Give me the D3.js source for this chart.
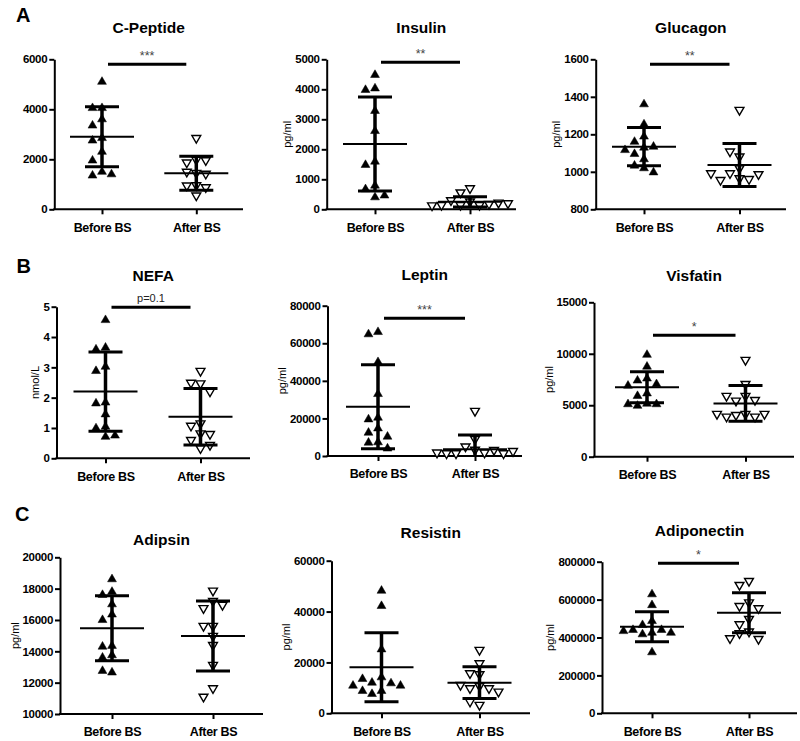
<!DOCTYPE html>
<html>
<head>
<meta charset="utf-8">
<script src="https://cdn.jsdelivr.net/npm/d3@7"></script>
<style>
  body { margin: 0; background: #fff; }
  svg { display: block; }
</style>
</head>
<body>
<svg id="chart" width="800" height="741"></svg>
<script>
// ---------------- DATA ----------------
const groups = ["Before BS", "After BS"];
const titles = ["C-Peptide", "Insulin", "Glucagon", "NEFA", "Leptin", "Visfatin", "Adipsin", "Resistin", "Adiponectin"];
const yLabels = ["", "pg/ml", "pg/ml", "nmol/L", "pg/ml", "pg/ml", "pg/ml", "pg/ml", "pg/ml"];
const panelLetters = ["A", "B", "C"];

const yDomains = [[0, 6000], [0, 5000], [800, 1600], [0, 5], [0, 80000], [0, 15000], [10000, 20000], [0, 60000], [0, 800000]];
const yTicks = [
  [0, 2000, 4000, 6000],
  [0, 1000, 2000, 3000, 4000, 5000],
  [800, 1000, 1200, 1400, 1600],
  [0, 1, 2, 3, 4, 5],
  [0, 20000, 40000, 60000, 80000],
  [0, 5000, 10000, 15000],
  [10000, 12000, 14000, 16000, 18000, 20000],
  [0, 20000, 40000, 60000],
  [0, 200000, 400000, 600000, 800000]
];

const beforeValues = [
  [5100, 4050, 4050, 3600, 3350, 2850, 2750, 2300, 1950, 1500, 1350, 1400],
  [4480, 4030, 3980, 3280, 2610, 1590, 1480, 790, 670, 400, 460],
  [1360, 1253, 1188, 1160, 1129, 1134, 1116, 1095, 1067, 1033, 1019, 997],
  [4.56, 3.65, 3.59, 3.02, 2.88, 1.84, 1.81, 1.45, 1.04, 0.99, 0.71, 0.75],
  [66000, 64800, 50000, 33000, 20400, 19500, 14700, 12400, 10300, 7300, 7100, 4000],
  [9900, 8750, 7600, 7400, 7050, 6900, 6150, 5900, 5150, 4950, 5100, 5100],
  [18600, 17800, 17600, 17000, 16350, 16000, 14350, 14300, 13750, 13600, 12650, 12750],
  [48200, 42200, 25150, 14150, 12050, 11800, 13500, 10870, 8780, 7600, 8780, 10870],
  [628000, 571000, 487000, 466000, 440000, 425000, 417000, 440000, 425000, 434000, 322000]
];
const afterValues = [
  [2850, 1980, 1870, 1960, 1450, 1500, 1420, 960, 950, 880, 550],
  [700, 560, 260, 140, 140, 300, 180, 140, 220, 130, 200],
  [1330, 1081, 1108, 1019, 992, 965, 961, 956, 987, 992],
  [2.88, 2.47, 2.49, 2.20, 1.15, 1.07, 0.82, 0.80, 0.60, 0.33, 0.44],
  [24000, 9000, 5000, 3300, 1800, 1400, 3200, 1400, 1400, 1800, 2600],
  [9400, 7060, 5900, 5440, 5500, 5900, 4150, 4050, 3890, 3890, 4150, 4150],
  [17870, 17210, 16750, 16960, 15620, 15620, 14980, 14400, 13130, 11640, 11100],
  [24900, 19650, 15330, 15720, 10740, 9830, 9830, 11140, 8500, 3280, 4590],
  [698000, 677000, 585000, 566000, 554000, 497600, 469500, 431000, 422000, 392000, 395600]
];

const beforeMean = [2900, 2180, 1134, 2.20, 26250, 6740, 15470, 18080, 457000];
const beforeSD   = [1200, 1567, 102, 1.31, 22350, 1505, 2075, 13560, 79000];
const afterMean  = [1440, 250, 1036, 1.37, 3550, 5180, 14980, 12050, 531000];
const afterSD    = [680, 170, 115, 0.93, 7650, 1735, 2235, 6220, 105500];

const sigLabels = ["***", "**", "**", "p=0.1", "***", "*", "", "", "*"];
const sigLevels = [5800, 4900, 1573, 4.98, 73300, 11800, null, null, 792000];

// ---------------- LAYOUT ----------------
const layout = [
  { ax: 54.3, end: 243, bx: 102, afx: 196.3, top: 59.3, bot: 209.3, titleY: 33 },
  { ax: 326.7, end: 516, bx: 375, afx: 470, top: 59.3, bot: 209.3, titleY: 33 },
  { ax: 595.7, end: 786, bx: 644, afx: 739.5, top: 59.3, bot: 209.3, titleY: 33 },
  { ax: 56.5, end: 250, bx: 105.5, afx: 200.5, top: 306.7, bot: 458.3, titleY: 280.5 },
  { ax: 327.5, end: 522, bx: 378, afx: 475, top: 305.7, bot: 456, titleY: 280 },
  { ax: 594, end: 794, bx: 647, afx: 745.5, top: 302.3, bot: 456.7, titleY: 281 },
  { ax: 60, end: 263, bx: 112, afx: 213, top: 557.3, bot: 714, titleY: 544.5 },
  { ax: 331.5, end: 530, bx: 381.5, afx: 479.5, top: 560.7, bot: 713.3, titleY: 537.5 },
  { ax: 602, end: 797, bx: 652, afx: 749, top: 561.7, bot: 713.3, titleY: 535.5 }
];
const letterPos = [{ x: 16, y: 21.7 }, { x: 16.5, y: 272.7 }, { x: 15, y: 521 }];

const FONT = '"Liberation Sans", Arial, Helvetica, sans-serif';
const STEP = 9.5, COLL = 9;
const slotOrder = [0, -1, 1, -2, 2, -3, 3, -4, 4, -5, 5];

const svg = d3.select("#chart");

function swarm(vals, cx, y) {
  const placed = [];
  return vals.map(v => {
    const py = y(v);
    for (const s of slotOrder) {
      if (!placed.some(p => p.s === s && Math.abs(p.py - py) < COLL)) {
        placed.push({ s, py });
        return { x: cx + s * STEP, y: py };
      }
    }
    return { x: cx, y: py };
  });
}

panelLetters.forEach((t, i) => {
  svg.append("text").attr("x", letterPos[i].x).attr("y", letterPos[i].y)
    .attr("font-family", FONT).attr("font-size", 20).attr("font-weight", "bold").text(t);
});

layout.forEach((L, i) => {
  const g = svg.append("g");
  const [dmin, dmax] = yDomains[i];
  const y = d3.scaleLinear().domain(yDomains[i]).range([L.bot, L.top]);
  const x = d3.scalePoint().domain(groups).range([L.bx, L.afx]);

  // Y axis
  const yg = g.append("g").attr("transform", `translate(${L.ax},0)`)
    .call(d3.axisLeft(y).tickValues(yTicks[i]).tickSize(5).tickPadding(2).tickSizeOuter(0).tickFormat(d3.format("d")));
  yg.select(".domain").attr("stroke", "#000").attr("stroke-width", 2);
  yg.selectAll(".tick line").attr("stroke", "#000").attr("stroke-width", 2);
  yg.selectAll(".tick text").attr("font-family", FONT).attr("font-size", 11.5)
    .attr("font-weight", "bold").attr("fill", "#000").attr("letter-spacing", -0.3);

  // X axis
  const xg = g.append("g").attr("transform", `translate(0,${L.bot})`)
    .call(d3.axisBottom(x).tickSize(5).tickPadding(8.5).tickSizeOuter(0));
  xg.select(".domain").remove();
  xg.append("line").attr("x1", L.ax - 1).attr("x2", L.end).attr("y1", 0).attr("y2", 0)
    .attr("stroke", "#000").attr("stroke-width", 2);
  xg.selectAll(".tick line").attr("stroke", "#000").attr("stroke-width", 2);
  xg.selectAll(".tick text").attr("font-family", FONT).attr("font-size", 12.5)
    .attr("font-weight", "bold").attr("fill", "#000").attr("letter-spacing", -0.3);

  // Title
  g.append("text").attr("x", (L.ax + L.end) / 2).attr("y", L.titleY)
    .attr("text-anchor", "middle").attr("font-family", FONT).attr("font-size", 15.5)
    .attr("font-weight", "bold").text(titles[i]);

  // Y label
  if (yLabels[i]) {
    const bb = yg.node().getBBox();
    const lx = L.ax + bb.x - 4;
    const ly = (L.top + L.bot) / 2;
    g.append("text").attr("transform", `translate(${lx},${ly}) rotate(-90)`)
      .attr("text-anchor", "middle").attr("font-family", FONT).attr("font-size", 11)
      .text(yLabels[i]);
  }

  const series = [
    { vals: beforeValues[i], mean: beforeMean[i], sd: beforeSD[i], cx: x(groups[0]), open: false },
    { vals: afterValues[i], mean: afterMean[i], sd: afterSD[i], cx: x(groups[1]), open: true }
  ];

  series.forEach(S => {
    const pts = swarm(S.vals, S.cx, y);
    g.append("g").selectAll("path").data(pts).join("path")
      .attr("d", d3.symbol(d3.symbolTriangle, 34)())
      .attr("transform", d => `translate(${d.x},${d.y})` + (S.open ? " rotate(180)" : ""))
      .attr("fill", S.open ? "#fff" : "#000")
      .attr("stroke", "#000").attr("stroke-width", S.open ? 1.4 : 0.5);
  });

  series.forEach(S => {
    const hi = Math.min(S.mean + S.sd, dmax), lo = Math.max(S.mean - S.sd, dmin);
    const eb = g.append("g").attr("stroke", "#000");
    eb.append("line").attr("x1", S.cx).attr("x2", S.cx).attr("y1", y(lo)).attr("y2", y(hi)).attr("stroke-width", 3.5);
    eb.append("line").attr("x1", S.cx - 32).attr("x2", S.cx + 32).attr("y1", y(S.mean)).attr("y2", y(S.mean)).attr("stroke-width", 2);
    [S.mean + S.sd, S.mean - S.sd].forEach(v => {
      if (v >= dmin && v <= dmax) {
        eb.append("line").attr("x1", S.cx - 17).attr("x2", S.cx + 17).attr("y1", y(v)).attr("y2", y(v)).attr("stroke-width", 3);
      }
    });
  });

  // Significance bar
  if (sigLevels[i] !== null) {
    const by = y(sigLevels[i]);
    const x1 = x(groups[0]) + 6, x2 = x(groups[1]) - 10;
    g.append("line").attr("x1", x1).attr("x2", x2).attr("y1", by).attr("y2", by)
      .attr("stroke", "#000").attr("stroke-width", 3);
    const isP = sigLabels[i].startsWith("p");
    g.append("text").attr("x", (x1 + x2) / 2).attr("y", by - (isP ? 5.5 : 4))
      .attr("text-anchor", "middle").attr("font-family", FONT)
      .attr("font-size", isP ? 11 : 12.5).attr("fill", isP ? "#222" : "#444")
      .text(sigLabels[i]);
  }
});
</script>
</body>
</html>
